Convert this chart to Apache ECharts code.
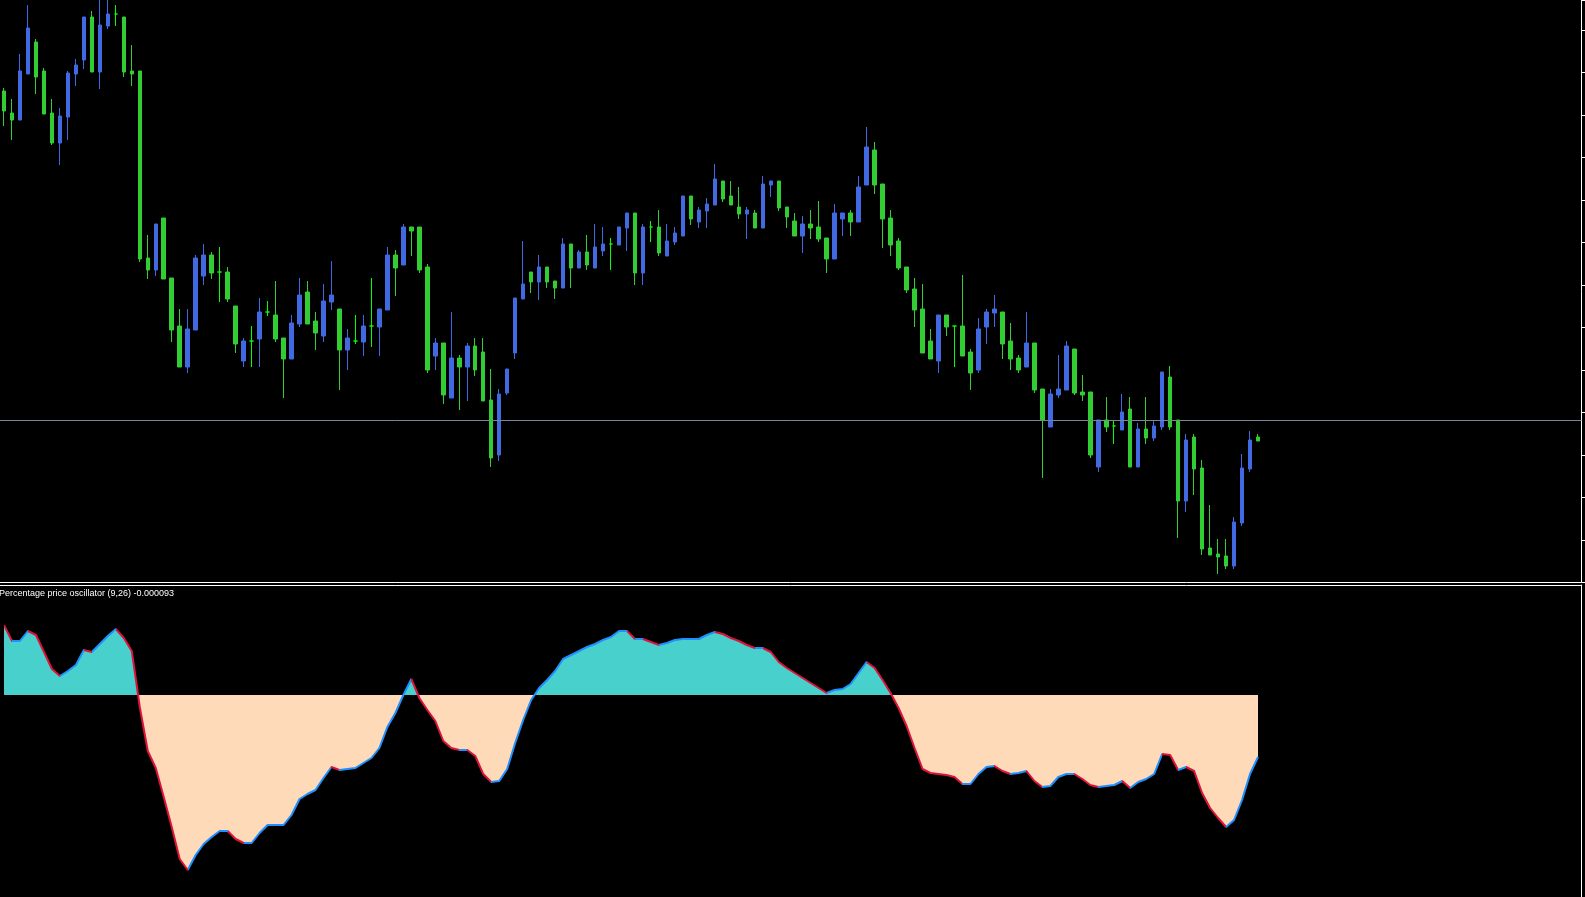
<!DOCTYPE html>
<html>
<head>
<meta charset="utf-8">
<title>Percentage price oscillator</title>
<script src="https://cdn.jsdelivr.net/npm/echarts@6/dist/echarts.min.js"></script>
<style>
  html, body { margin: 0; padding: 0; background: #000; }
  #chart { width: 1585px; height: 897px; }
</style>
</head>
<body>
<div id="chart"></div>
<script>
// price values (arbitrary price units, higher = higher price)
const open = [
  509,487,480,526,558,529,487,457,483,526,
  540,583,528,574,586,583,529,529,342,330,
  382,322,274,233,270,324,345,328,328,294,
  239,259,261,288,285,262,241,276,308,279,
  264,298,291,250,259,258,274,273,290,345,
  335,373,373,333,244,257,202,242,233,254,
  248,200,145,207,247,301,328,318,333,319,
  312,356,332,348,332,349,356,355,372,387,
  327,373,373,344,358,364,404,378,389,395,
  419,404,393,386,387,372,415,419,393,379,
  364,376,373,362,341,381,387,378,415,450,
  416,382,359,333,311,291,259,239,285,274,
  274,248,230,273,287,288,259,242,233,257,
  211,173,205,210,251,208,208,133,180,174,
  170,191,133,171,162,173,223,180,99,163,
  132,52,46,44,34,77,131,163
];
const close = [
  489,480,529,572,523,486,457,484,527,535,
  583,528,575,586,586,528,526,341,330,376,
  321,270,233,271,342,345,327,328,301,256,
  259,259,288,288,261,241,277,305,276,267,
  299,305,250,262,259,274,274,291,345,332,
  373,369,330,230,257,205,242,233,254,230,
  199,142,206,231,302,316,318,333,318,312,
  356,332,348,335,353,356,356,373,387,327,
  373,373,347,359,367,404,381,390,396,421,
  401,395,386,390,372,416,419,392,383,364,
  376,372,361,341,387,387,378,413,453,415,
  381,355,332,310,290,247,241,285,273,274,
  244,227,271,288,291,256,241,230,257,210,
  180,206,211,254,207,205,145,180,173,174,
  188,133,171,162,174,228,173,99,160,131,
  51,45,43,34,78,132,160,159
];
const low = [
  474,460,480,526,506,486,455,435,460,514,
  531,528,511,571,574,523,514,338,321,324,
  321,258,233,227,270,315,321,298,298,247,
  233,233,233,284,258,202,241,273,276,250,
  258,290,210,230,256,244,253,244,290,304,
  335,344,327,227,230,196,202,190,199,224,
  199,133,139,205,241,301,307,300,312,301,
  312,312,332,330,332,344,330,355,349,315,
  315,358,344,344,355,364,375,372,372,395,
  398,395,381,361,372,372,403,389,372,364,
  347,361,358,327,341,364,364,378,415,406,
  352,344,330,307,273,247,241,227,264,233,
  244,210,227,256,273,241,230,227,233,207,
  122,173,202,210,205,199,142,128,168,156,
  170,133,133,156,159,170,170,62,88,105,
  45,45,26,31,31,74,128,159
];
const high = [
  512,501,546,595,561,532,501,492,529,541,
  583,589,600,600,595,583,555,529,365,376,
  382,322,291,291,345,356,348,353,333,294,
  262,274,302,299,319,262,285,322,319,288,
  316,339,291,271,285,285,322,291,353,350,
  376,373,373,336,262,257,288,245,257,262,
  262,231,211,231,302,359,328,345,333,319,
  362,356,350,365,376,373,362,373,387,387,
  376,379,390,376,373,404,404,393,402,436,
  419,419,413,393,390,424,419,419,393,387,
  384,390,399,362,396,387,390,424,473,458,
  416,390,362,333,322,316,271,285,285,274,
  325,251,282,291,305,288,277,245,288,257,
  211,211,245,259,251,225,208,180,203,180,
  206,203,177,203,180,228,234,180,166,166,
  140,95,61,61,83,146,169,166
];
// oscillator values (scaled units)
const osc = [
  70,54,54,64,60,43,26,19,24,30,
  45,43,51,59,66,57,44,-12,-56,-73,
  -102,-132,-164,-175,-160,-149,-142,-136,-136,-144,
  -148,-148,-138,-130,-130,-130,-120,-104,-99,-95,
  -83,-72,-75,-74,-73,-68,-63,-53,-32,-18,
  0,16,-3,-15,-26,-46,-53,-55,-55,-61,
  -79,-87,-86,-74,-48,-25,-5,7,15,24,
  36,40,44,48,51,55,58,64,64,56,
  56,53,50,52,55,56,56,56,60,63,
  61,57,54,50,47,47,43,33,27,22,
  17,12,7,2,5,6,11,22,33,27,
  15,2,-13,-31,-53,-74,-78,-79,-80,-82,
  -89,-89,-79,-72,-71,-76,-79,-78,-76,-86,
  -92,-91,-82,-79,-79,-84,-90,-92,-91,-90,
  -86,-93,-87,-84,-79,-59,-60,-75,-72,-76,
  -98,-113,-123,-132,-125,-105,-79,-62
];
const priceMin = 17.5, priceMax = 600, priceStep = 42.5;
const oscMin = -202, oscMax = 110;
const bidLevel = 180;
const oscLabel = "Percentage price oscillator (9,26) -0.000093";
const emptySlots = 40; // free space right of the last bar

const slots = [];
for (let i = 0; i < open.length + emptySlots; i++) slots.push(String(i + 1));
const candles = open.map((o, i) => [o, close[i], low[i], high[i]]);

// line colour: blue while rising, red while falling
const pieces = [];
for (let i = 0; i < osc.length - 1; i++) {
  const color = osc[i + 1] >= osc[i] ? "#1E90FF" : "#DC143C";
  const last = pieces[pieces.length - 1];
  if (last && last.color === color) last.lt = i + 1;
  else pieces.push({ gte: i, lt: i + 1, color: color });
}
pieces[pieces.length - 1].lt = osc.length;

const chart = echarts.init(document.getElementById("chart"));
chart.setOption({
  backgroundColor: "#000",
  animation: false,
  title: {
    text: oscLabel,
    left: -1,
    top: 589,
    padding: 0,
    textStyle: {
      color: "#fff",
      fontSize: 9,
      fontWeight: "normal",
      fontFamily: "Liberation Sans",
    },
  },
  grid: [
    { left: -2.5, top: 0, width: 1584, height: 582.5 },
    { left: -2.5, top: 585, width: 1584, height: 312 },
  ],
  xAxis: [
    {
      gridIndex: 0,
      type: "category",
      data: slots,
      axisLine: { show: true, onZero: false, lineStyle: { color: "#fff", width: 1 } },
      axisTick: { show: false },
      axisLabel: { show: false },
      splitLine: { show: false },
    },
    {
      gridIndex: 1,
      type: "category",
      data: slots,
      position: "top",
      axisLine: { show: true, onZero: false, lineStyle: { color: "#fff", width: 1 } },
      axisTick: { show: false },
      axisLabel: { show: false },
      splitLine: { show: false },
    },
  ],
  yAxis: [
    {
      gridIndex: 0,
      type: "value",
      position: "right",
      min: priceMin,
      max: priceMax,
      interval: priceStep,
      axisLine: { show: true, lineStyle: { color: "#fff", width: 1 } },
      axisTick: { show: true, length: 4, lineStyle: { color: "#fff" } },
      axisLabel: { show: false },
      splitLine: { show: false },
    },
    {
      gridIndex: 1,
      type: "value",
      position: "right",
      min: oscMin,
      max: oscMax,
      axisLine: { show: true, lineStyle: { color: "#fff", width: 1 } },
      axisTick: { show: false },
      axisLabel: { show: false },
      splitLine: { show: false },
    },
  ],
  visualMap: [
    {
      type: "piecewise",
      show: false,
      seriesIndex: 1,
      dimension: 1,
      pieces: [
        { gt: 0, lte: oscMax, color: "#48D1CC" },
        { gte: oscMin, lte: 0, color: "#FFDAB9" },
      ],
    },
    {
      type: "piecewise",
      show: false,
      seriesIndex: 2,
      dimension: 0,
      pieces: pieces,
    },
  ],
  series: [
    {
      type: "candlestick",
      xAxisIndex: 0,
      yAxisIndex: 0,
      data: candles,
      barWidth: 4,
      itemStyle: {
        color: "#4169E1",
        color0: "#32CD32",
        borderColor: "#4169E1",
        borderColor0: "#32CD32",
        borderColorDoji: "#00FF00",
        borderWidth: 1,
      },
      markLine: {
        silent: true,
        symbol: ["none", "none"],
        label: { show: false },
        lineStyle: { color: "#778899", width: 1, type: "solid" },
        data: [{ yAxis: bidLevel }],
      },
    },
    {
      type: "line",
      xAxisIndex: 1,
      yAxisIndex: 1,
      data: osc,
      showSymbol: false,
      silent: true,
      lineStyle: { width: 0 },
      areaStyle: { opacity: 1 },
    },
    {
      type: "line",
      xAxisIndex: 1,
      yAxisIndex: 1,
      data: osc,
      showSymbol: false,
      lineStyle: { width: 2 },
    },
  ],
});
</script>
</body>
</html>
